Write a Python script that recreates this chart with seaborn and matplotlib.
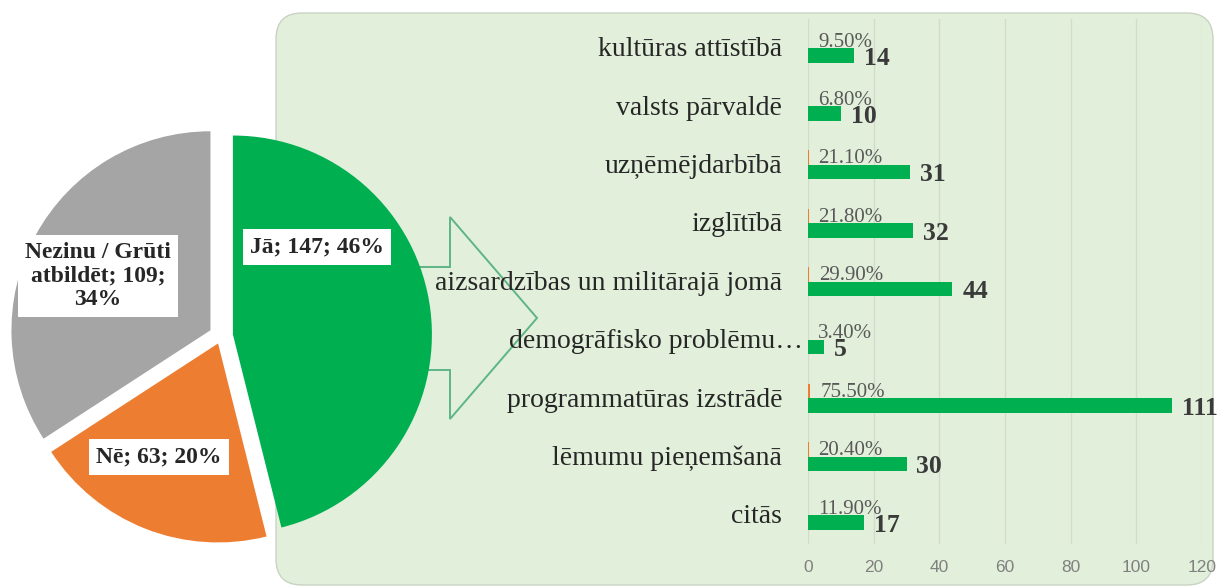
import textwrap

import matplotlib
matplotlib.use("Agg")
import matplotlib.pyplot as plt
from matplotlib.patches import FancyBboxPatch, Polygon
import pandas as pd
import seaborn as sns

# Answers to the main question (pie)
answer_labels = ["Jā", "Nē", "Nezinu / Grūti atbildēt"]
answer_counts = [147, 63, 109]
answer_colors = ["#00b050", "#ed7d31", "#a5a5a5"]

# Areas named by those who answered "Jā" (bars)
areas = [
    "kultūras attīstībā",
    "valsts pārvaldē",
    "uzņēmējdarbībā",
    "izglītībā",
    "aizsardzības un militārajā jomā",
    "demogrāfisko problēmu…",
    "programmatūras izstrādē",
    "lēmumu pieņemšanā",
    "citās",
]
area_counts = [14, 10, 31, 32, 44, 5, 111, 30, 17]
area_shares = [9.5, 6.8, 21.1, 21.8, 29.9, 3.4, 75.5, 20.4, 11.9]
x_ticks = [0, 20, 40, 60, 80, 100, 120]

sns.set_style("white")
plt.rcParams["font.family"] = ["Liberation Serif", "DejaVu Serif"]

W, H = 1217, 588
fig = plt.figure(figsize=(W / 100, H / 100), dpi=100)
fig.patch.set_facecolor("white")

# Background layer in pixel units: panel, arrow and the pie
bg = fig.add_axes([0, 0, 1, 1])


def Y(y):
    return H - y


panel = FancyBboxPatch((276, Y(585)), 1213 - 276, 585 - 13,
                       boxstyle="round,pad=0,rounding_size=26",
                       fc="#e2efda", ec="#c9d3c3", lw=1.0, zorder=0)
bg.add_patch(panel)

arrow_pts = [(400, Y(267)), (450, Y(267)), (450, Y(217)), (537, Y(318)),
             (450, Y(419)), (450, Y(370)), (400, Y(370))]
bg.add_patch(Polygon(arrow_pts, closed=True, fill=False, ec="#5db585",
                     lw=1.4, zorder=1))

# explode is given in data units here (pixels)
bg.pie(answer_counts, colors=answer_colors, startangle=90, counterclock=False,
       center=(221, Y(336)), radius=199, explode=[12, 8, 12],
       wedgeprops=dict(linewidth=0, zorder=2))
bg.set_xlim(0, W)
bg.set_ylim(0, H)
bg.set_aspect("auto")
bg.axis("off")

total = sum(answer_counts)
label_pos = [(317, 247), (159, 457), (98, 276)]
for name, n, (x, y) in zip(answer_labels, answer_counts, label_pos):
    txt = textwrap.fill(f"{name}; {n}; {round(100 * n / total)}%", 14)
    bg.text(x, Y(y), txt, ha="center", va="center", fontsize=17,
            fontweight="bold", color="#262626", linespacing=1.15,
            bbox=dict(boxstyle="square,pad=0.3", fc="white", ec="none"),
            zorder=4)

# Bar chart
left, right, top, bottom = 808 / W, 1202 / W, 18.8 / H, 544.2 / H
axb = fig.add_axes([left, 1 - bottom, right - left, bottom - top])
axb.patch.set_alpha(0)

df = pd.DataFrame({
    "joma": areas * 2,
    "rādītājs": ["daļa"] * len(areas) + ["skaits"] * len(areas),
    "vērtība": [s / 100 for s in area_shares] + area_counts,
})
sns.barplot(data=df, y="joma", x="vērtība", hue="rādītājs",
            hue_order=["daļa", "skaits"], order=areas,
            palette={"daļa": "#ed7d31", "skaits": "#00b050"},
            width=0.5, saturation=1, orient="h", legend=False, ax=axb)
for p in axb.patches:
    p.set_zorder(2)
    p.set_linewidth(0)

axb.set_xlim(0, 120)
axb.set_ylim(len(areas) - 0.5, -0.5)
axb.set_xticks(x_ticks)
axb.set_xticklabels([str(t) for t in x_ticks], fontfamily="Liberation Sans",
                    fontsize=12.5, color="#808080")
axb.tick_params(axis="x", length=0, pad=11.5)
axb.tick_params(axis="y", length=0, labelleft=False)
axb.set_xlabel("")
axb.set_ylabel("")
axb.grid(axis="x", color="#d3dccb", lw=1.0)
axb.grid(axis="y", visible=False)
axb.set_axisbelow(True)
for s in axb.spines.values():
    s.set_visible(False)

for i, name in enumerate(areas):
    xpos = -1.5 if name.endswith("…") else -7.9
    axb.text(xpos, i + 0.03, name, ha="right", va="center", fontsize=20,
             color="#262626", clip_on=False, zorder=3)

for i, (n, s) in enumerate(zip(area_counts, area_shares)):
    axb.annotate(f"{n}", xy=(n, i + 0.125), xytext=(7, -2),
                 textcoords="offset points", ha="left", va="center",
                 fontsize=18.5, fontweight="bold", color="#3a3a3a",
                 annotation_clip=False, zorder=3)
    axb.annotate(f"{s:.2f}%", xy=(s / 100, i - 0.125), xytext=(7, -1),
                 textcoords="offset points", ha="left", va="center",
                 fontsize=15, color="#595959", annotation_clip=False,
                 zorder=1)

fig.savefig("out.png", dpi=100)
